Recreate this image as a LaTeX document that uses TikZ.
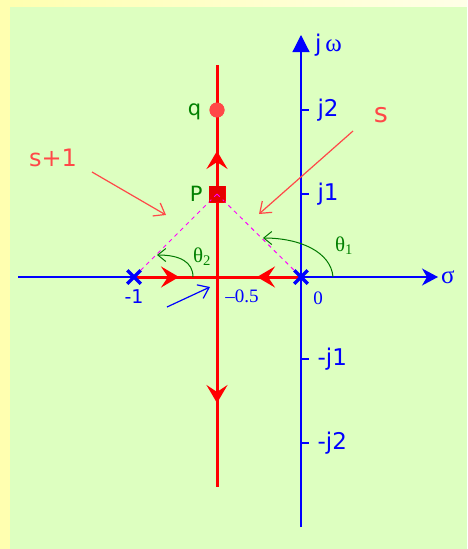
\documentclass[tikz,border=0pt]{standalone}
\usepackage{fontspec}
\setmainfont{DejaVu Sans}
\newfontfamily\greekserif{Liberation Serif}
\usetikzlibrary{arrows.meta,positioning,shapes.misc,decorations.markings}
\definecolor{bggreen}{RGB}{221,255,192}
\definecolor{bgyellow}{RGB}{255,255,176}
\definecolor{locusred}{RGB}{255,0,0}
\definecolor{softred}{RGB}{255,72,72}
\definecolor{axisblue}{RGB}{0,0,255}
\definecolor{labelgreen}{RGB}{0,128,0}
\definecolor{arcgreen}{RGB}{0,120,0}
\definecolor{dashpink}{RGB}{255,0,255}

\begin{document}
\begin{tikzpicture}[x=1pt, y=-1pt,
  axis/.style={draw=axisblue, line width=1.2pt},
  locus/.style={draw=locusred, line width=3pt},
  midarrow/.style={postaction={decorate}, decoration={markings,
    mark=at position #1 with {\arrow{Stealth[length=18pt,width=21pt,inset=7pt]}}}},
  pole/.style={cross out, draw=axisblue, line width=3.5pt, minimum size=10pt, inner sep=0pt},
  ticklabel/.style={text=axisblue, font=\fontsize{23}{25}\selectfont, inner sep=0pt},
  numlabel/.style={text=axisblue, font=\greekserif\fontsize{19}{21}\selectfont, inner sep=0pt},
  ptlabel/.style={text=labelgreen, font=\fontsize{21}{23}\selectfont, inner sep=0pt},
  anglelabel/.style={text=labelgreen, font=\greekserif\fontsize{21}{23}\selectfont, inner sep=0pt},
  anglearc/.style={draw=arcgreen, line width=1pt, -{Straight Barb[length=8pt,width=13pt]}},
  vecarrow/.style={draw=softred, line width=1.2pt, -{Straight Barb[length=10pt,width=15pt]}},
  dashline/.style={draw=dashpink, line width=1pt, dash pattern=on 4pt off 4pt}]

  % background
  \fill[bgyellow] (0,0) rectangle (467,549);
  \shade[left color=bgyellow, right color=bgyellow!30!white] (10,0) rectangle (467,7);
  \fill[bggreen] (10,7) rectangle (467,549);
  \useasboundingbox (0,0) rectangle (467,549);

  % axes
  \coordinate (xl) at (18,277);
  \coordinate (xr) at (438,277);
  \coordinate (yb) at (301,527);
  \coordinate (yt) at (301,35);
  \draw[axis, -{Stealth[length=16pt,width=17pt,inset=5pt]}] (xl) -- (xr);
  \draw[axis, -{Triangle[length=17pt,width=17pt]}] (yb) -- (yt);
  \node[numlabel, font=\greekserif\fontsize{25}{27}\selectfont, anchor=west] (sigma) at (441,277) {σ};
  \node[ticklabel, anchor=west] (jw) at (315,45) {j\,{\greekserif\fontsize{25}{27}\selectfont ω}};

  % ticks on the imaginary axis
  \foreach \yy/\lab [count=\i] in {110/j2,194/j1,359/-j1,443/-j2} {
    \coordinate (tk\i) at (301,\yy);
    \draw[axis] (tk\i) -- ++(8,0) node[ticklabel, anchor=west, right=8pt] (tl\i) {\lab};
  }

  % root locus
  \coordinate (brk) at (217,277);
  \coordinate (top) at (217,65);
  \coordinate (bot) at (217,487);
  \coordinate (pm1) at (134,277);
  \coordinate (p0) at (301,277);
  \node[circle, fill=softred, minimum size=15pt, inner sep=0pt] (q) at (217,110) {};
  \node[fill=locusred!90!black, draw=locusred, minimum width=16pt, minimum height=16pt, inner sep=0pt] (P) at (217,194) {};

  \draw[dashline] (P.center) -- (pm1);
  \draw[dashline] (P.center) -- (p0);

  \draw[locus, midarrow=45pt] (pm1) -- (brk);
  \draw[locus, midarrow=44pt] (p0) -- (brk);
  \draw[locus, midarrow=126pt] (brk) -- (top);
  \draw[locus, midarrow=126pt] (brk) -- (bot);

  \node[circle, fill=softred, minimum size=15pt, inner sep=0pt] at (q) {};
  \node[fill=locusred!90!black, minimum width=16pt, minimum height=16pt, inner sep=0pt] at (P) {};
  \draw[dashline] (P.center) -- ++(-7,7);
  \draw[dashline] (P.center) -- ++(7,7);

  \node[ptlabel, left=8pt of q, yshift=-2pt] (qlab) {q};
  \node[ptlabel, left=6pt of P] (Plab) {P};

  % poles
  \node[pole] (x1) at (pm1) {};
  \node[pole] (x0) at (p0) {};
  \node[numlabel, font=\fontsize{19}{21}\selectfont, below=6pt of x1] (lm1) {-1};
  \node[numlabel] (l0) at (318,298) {0};
  \node[numlabel] (lhalf) at (242,296) {–0.5};

  % angles
  \coordinate (a1s) at (333,277);
  \coordinate (a1e) at (263,238);
  \draw[anglearc] (a1s) .. controls (331,252) and (300,238) .. (a1e);
  \node[anglelabel] (th1) at (344,246) {θ\textsubscript{1}};
  \coordinate (a2s) at (193,277);
  \coordinate (a2e) at (157,255);
  \draw[anglearc] (a2s) .. controls (193,262) and (180,255) .. (a2e);
  \node[anglelabel] (th2) at (202,257) {θ\textsubscript{2}};

  % vector labels
  \node[text=softred, font=\fontsize{24}{26}\selectfont, inner sep=0pt] (sp1) at (53,158) {s+1};
  \node[text=softred, font=\fontsize{27}{29}\selectfont, inner sep=0pt] (slab) at (381,115) {s};
  \coordinate (sp1t) at (92,172);
  \coordinate (sp1h) at (166,215);
  \coordinate (st) at (353,131);
  \coordinate (sh) at (259,214);
  \draw[vecarrow] (sp1t) -- (sp1h);
  \draw[vecarrow] (st) -- (sh);
  \coordinate (bt) at (167,307);
  \coordinate (bh) at (210,287);
  \draw[vecarrow, draw=axisblue] (bt) -- (bh);
\end{tikzpicture}
\end{document}
